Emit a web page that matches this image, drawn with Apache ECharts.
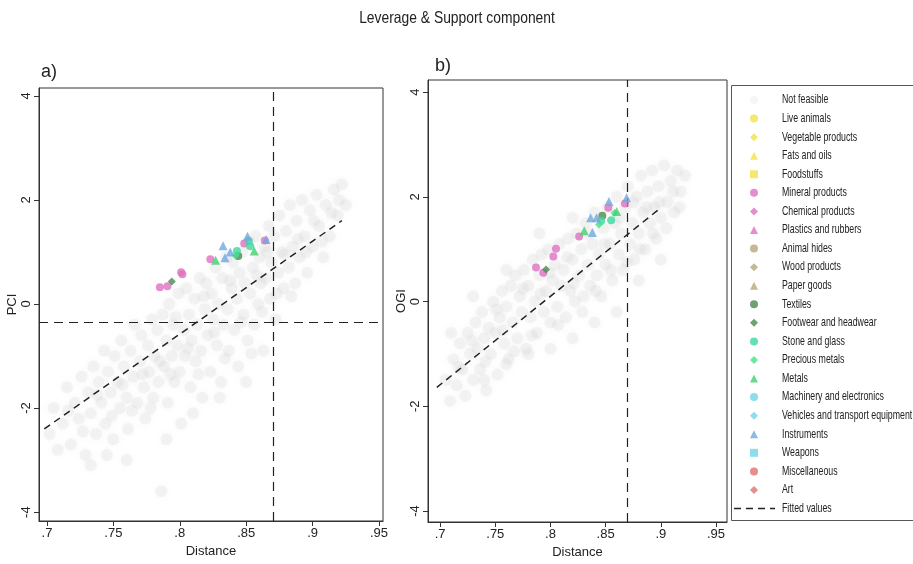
<!DOCTYPE html>
<html><head><meta charset="utf-8">
<script src="https://cdn.jsdelivr.net/npm/echarts@6/dist/echarts.min.js"></script>
<style>html,body{margin:0;padding:0;background:#fff}#c{width:913px;height:564px}</style>
</head><body><div id="c"></div>
<script>
const categories = ["Not feasible","Live animals","Vegetable products","Fats and oils","Foodstuffs","Mineral products","Chemical products","Plastics and rubbers","Animal hides","Wood products","Paper goods","Textiles","Footwear and headwear","Stone and glass","Precious metals","Metals","Machinery and electronics","Vehicles and transport equipment","Instruments","Weapons","Miscellaneous","Art"];
const fittedName = "Fitted values";
const xTicks = [0.7,0.75,0.8,0.85,0.9,0.95];
const yTicks = [-4,-2,0,2,4];
const xTickLabels = [".7",".75",".8",".85",".9",".95"];

// Panel a (PCI)
const notFeasibleA = [[0.712,-2.3],[0.715,-1.6],[0.718,-2.7],[0.721,-1.9],[0.724,-2.2],[0.726,-1.4],[0.729,-2.9],[0.731,-1.7],[0.733,-2.1],[0.735,-1.2],[0.737,-2.5],[0.739,-1.5],[0.741,-1.9],[0.743,-0.9],[0.744,-2.3],[0.746,-1.3],[0.748,-1.7],[0.75,-2.6],[0.751,-1.0],[0.753,-1.5],[0.755,-2.0],[0.756,-0.7],[0.758,-1.2],[0.76,-1.8],[0.761,-2.4],[0.763,-0.9],[0.765,-1.4],[0.766,-0.4],[0.768,-1.9],[0.77,-1.1],[0.771,-0.6],[0.773,-1.6],[0.774,-2.2],[0.776,-0.8],[0.777,-1.3],[0.779,-0.3],[0.78,-1.8],[0.781,-1.0],[0.783,-0.5],[0.784,-1.5],[0.786,-3.6],[0.787,-0.2],[0.788,-1.2],[0.79,-0.7],[0.791,-1.9],[0.792,0.0],[0.794,-1.0],[0.795,-0.4],[0.796,-1.5],[0.798,-0.8],[0.799,0.2],[0.8,-1.3],[0.801,-2.3],[0.803,-0.5],[0.804,-1.0],[0.805,0.3],[0.807,-0.2],[0.808,-1.6],[0.809,-0.7],[0.811,0.1],[0.812,-1.1],[0.813,-0.4],[0.815,0.5],[0.816,-0.9],[0.817,-1.8],[0.819,-0.1],[0.82,0.4],[0.821,-0.6],[0.823,-1.3],[0.824,0.2],[0.825,-0.3],[0.827,0.7],[0.828,-0.8],[0.829,0.0],[0.831,-1.5],[0.832,0.5],[0.833,-0.4],[0.835,0.9],[0.836,-0.1],[0.837,-0.9],[0.839,0.3],[0.84,0.8],[0.841,-0.5],[0.843,0.1],[0.844,-1.2],[0.845,0.6],[0.847,1.0],[0.848,-0.2],[0.849,0.4],[0.851,-0.7],[0.852,1.2],[0.853,0.2],[0.855,0.7],[0.856,-0.4],[0.857,1.3],[0.859,0.0],[0.86,0.9],[0.861,0.4],[0.863,-0.9],[0.864,1.1],[0.865,0.5],[0.867,1.5],[0.868,0.1],[0.869,0.8],[0.871,1.3],[0.872,-0.3],[0.874,0.6],[0.875,1.7],[0.877,1.0],[0.878,0.3],[0.88,1.4],[0.882,0.7],[0.883,1.9],[0.885,1.1],[0.887,0.4],[0.888,1.6],[0.89,0.9],[0.892,2.0],[0.894,1.3],[0.896,0.6],[0.898,1.8],[0.9,1.1],[0.903,2.1],[0.905,1.5],[0.908,0.9],[0.91,1.9],[0.913,1.3],[0.916,2.2],[0.919,1.7],[0.922,2.3],[0.925,1.9],[0.705,-2.0],[0.708,-2.8],[0.702,-2.5],[0.733,-3.1],[0.745,-2.9],[0.76,-3.0],[0.79,-2.6],[0.81,-2.1],[0.83,-1.8],[0.85,-1.5],[0.716,-2.05],[0.727,-2.45],[0.738,-1.75],[0.749,-2.15],[0.757,-1.55],[0.764,-2.05],[0.772,-1.35],[0.778,-2.0],[0.785,-1.1],[0.793,-1.35],[0.797,-0.25],[0.806,-0.85],[0.814,-1.35],[0.818,0.15],[0.826,-0.55],[0.834,-1.05],[0.838,0.45],[0.846,-0.35],[0.854,-0.95],[0.858,0.55],[0.862,-0.15],[0.866,1.0],[0.873,0.2],[0.879,0.95],[0.884,0.15],[0.889,1.25],[0.895,1.0],[0.901,1.6],[0.907,1.2],[0.914,1.75],[0.92,2.0]];
const mineralA = [[0.785,0.32],[0.7907,0.34],[0.801,0.61],[0.802,0.57],[0.823,0.86],[0.8485,1.16],[0.864,1.22]];
const footwearA = [[0.794,0.43]];
const metalsA = [[0.827,0.84],[0.856,1.02]];
const instrumentsA = [[0.8326,1.12],[0.834,0.89],[0.838,1.0],[0.851,1.30],[0.865,1.24]];
const stoneA = [[0.843,1.02],[0.852,1.21],[0.853,1.11]];
const textilesA = [[0.844,0.92]];
const preciousA = [[0.842,0.93]];
const fitA = [[0.698,-2.40],[0.922,1.60]];
const distanceCutA = 0.872;
const pciCutA = -0.35;

// Panel b (OGI)
const notFeasibleB = [[0.705,-1.5],[0.709,-1.9],[0.712,-1.1],[0.715,-1.6],[0.718,-0.8],[0.72,-1.3],[0.723,-1.8],[0.725,-0.6],[0.727,-1.0],[0.73,-1.5],[0.732,-0.4],[0.734,-0.9],[0.736,-1.3],[0.738,-0.2],[0.74,-0.7],[0.742,-1.7],[0.744,-0.5],[0.746,-1.0],[0.748,0.0],[0.75,-0.6],[0.752,-1.4],[0.754,-0.3],[0.756,0.2],[0.758,-0.8],[0.76,-0.1],[0.762,-1.1],[0.764,0.3],[0.766,-0.4],[0.768,0.5],[0.77,-0.7],[0.772,0.1],[0.774,-0.2],[0.776,0.6],[0.778,-0.9],[0.78,0.3],[0.782,-0.3],[0.784,0.8],[0.786,0.0],[0.788,-0.6],[0.79,0.5],[0.792,0.9],[0.794,-0.2],[0.796,0.2],[0.798,1.0],[0.8,-0.4],[0.802,0.4],[0.804,0.7],[0.806,-0.1],[0.808,1.1],[0.81,0.3],[0.812,0.6],[0.814,-0.3],[0.816,1.2],[0.818,0.2],[0.82,0.8],[0.822,0.0],[0.824,1.3],[0.826,0.5],[0.828,1.0],[0.83,0.1],[0.832,1.5],[0.834,0.7],[0.836,0.3],[0.838,1.1],[0.84,1.7],[0.842,0.5],[0.844,0.9],[0.846,0.1],[0.848,1.4],[0.85,0.7],[0.852,1.8],[0.854,1.1],[0.856,0.4],[0.858,1.5],[0.86,2.0],[0.862,0.9],[0.864,1.3],[0.866,0.6],[0.868,1.8],[0.87,2.2],[0.872,1.1],[0.874,1.5],[0.876,0.8],[0.878,2.0],[0.88,1.3],[0.882,2.4],[0.884,1.7],[0.886,1.0],[0.888,2.1],[0.89,1.5],[0.892,2.5],[0.894,1.8],[0.896,1.2],[0.898,2.2],[0.9,1.6],[0.903,2.6],[0.906,1.9],[0.909,2.3],[0.912,1.7],[0.915,2.5],[0.918,2.1],[0.922,2.4],[0.74,-1.5],[0.76,-1.2],[0.78,-1.0],[0.8,-0.9],[0.82,-0.7],[0.84,-0.4],[0.86,-0.2],[0.88,0.4],[0.9,0.8],[0.71,-0.6],[0.73,0.1],[0.76,0.6],[0.79,1.3],[0.82,1.6],[0.717,-1.25],[0.729,-0.75],[0.741,-1.15],[0.751,-0.15],[0.757,-0.55],[0.767,-0.95],[0.775,0.25],[0.783,-0.65],[0.791,0.15],[0.799,0.55],[0.807,-0.45],[0.815,0.85],[0.821,0.35],[0.829,-0.2],[0.835,1.3],[0.841,0.2],[0.849,1.1],[0.855,0.6],[0.863,1.6],[0.869,0.75],[0.875,1.9],[0.881,1.0],[0.887,1.8],[0.893,1.3],[0.899,1.9],[0.905,1.4],[0.911,2.1],[0.917,1.8]];
const mineralB = [[0.7869,0.65],[0.7935,0.55],[0.8026,0.86],[0.805,1.01],[0.826,1.24],[0.8524,1.79],[0.8675,1.87]];
const footwearB = [[0.796,0.61]];
const metalsB = [[0.8306,1.35],[0.86,1.72]];
const instrumentsB = [[0.838,1.32],[0.8364,1.60],[0.8418,1.60],[0.853,1.91],[0.869,1.98]];
const preciousB = [[0.844,1.47],[0.858,1.69]];
const textilesB = [[0.847,1.64]];
const stoneB = [[0.846,1.54],[0.855,1.55]];
const fitB = [[0.697,-1.64],[0.90,1.79]];
const distanceCutB = 0.872;

// styles (not data)
const styleMap = {
 "Not feasible":["circle","#d0d0d0"],
 "Live animals":["circle","#f0e448"],
 "Vegetable products":["diamond","#f0e448"],
 "Fats and oils":["triangle","#f0e448"],
 "Foodstuffs":["rect","#f0e448"],
 "Mineral products":["circle","#e070c0"],
 "Chemical products":["diamond","#e070c0"],
 "Plastics and rubbers":["triangle","#e070c0"],
 "Animal hides":["circle","#b8a57a"],
 "Wood products":["diamond","#b8a57a"],
 "Paper goods":["triangle","#b8a57a"],
 "Textiles":["circle","#4a8a50"],
 "Footwear and headwear":["diamond","#4a8a50"],
 "Stone and glass":["circle","#40d8a0"],
 "Precious metals":["diamond","#48e088"],
 "Metals":["triangle","#44d070"],
 "Machinery and electronics":["circle","#70d4e8"],
 "Vehicles and transport equipment":["diamond","#70d4e8"],
 "Instruments":["triangle","#6fa8de"],
 "Weapons":["rect","#70d4e8"],
 "Miscellaneous":["circle","#e07070"],
 "Art":["diamond","#e07070"]
};
const panelA = {"Not feasible":notFeasibleA,"Mineral products":mineralA,"Footwear and headwear":footwearA,"Metals":metalsA,"Instruments":instrumentsA,"Stone and glass":stoneA,"Textiles":textilesA,"Precious metals":preciousA};
const panelB = {"Not feasible":notFeasibleB,"Mineral products":mineralB,"Footwear and headwear":footwearB,"Metals":metalsB,"Instruments":instrumentsB,"Stone and glass":stoneB,"Textiles":textilesB,"Precious metals":preciousB};

const FONT = '"Liberation Sans Narrow","Liberation Sans",Arial,sans-serif';
const chart = echarts.init(document.getElementById('c'), null, {renderer:'canvas'});

function xAxisDef(idx, min, max){
  return {gridIndex:idx, type:'value', min:min, max:max, name:'Distance', nameLocation:'middle', nameGap:24,
    nameTextStyle:{fontFamily:FONT,fontSize:13,color:'#222'},
    axisLine:{show:true,onZero:false,lineStyle:{color:'#333',width:1}},
    axisTick:{show:true,inside:false,length:5,customValues:xTicks,lineStyle:{color:'#333'}},
    axisLabel:{customValues:xTicks,fontFamily:FONT,fontSize:13,color:'#222',margin:6,
      formatter:v=>{const i=xTicks.findIndex(t=>Math.abs(t-v)<1e-9);return i>=0?xTickLabels[i]:'';}},
    splitLine:{show:false}};
}
function yAxisDef(idx, min, max, name){
  return {gridIndex:idx, type:'value', min:min, max:max, name:name, nameLocation:'middle', nameGap:19, nameRotate:90,
    nameTextStyle:{fontFamily:FONT,fontSize:13,color:'#222'},
    axisLine:{show:true,onZero:false,lineStyle:{color:'#333',width:1}},
    axisTick:{show:true,inside:false,length:5,customValues:yTicks,lineStyle:{color:'#333'}},
    axisLabel:{customValues:yTicks,rotate:90,fontFamily:FONT,fontSize:13,color:'#222',margin:6},
    splitLine:{show:false}};
}

const series = [];
function addPanel(idx, pts, fit, vcut, hcut){
  categories.forEach(name=>{
    const st = styleMap[name];
    const nf = name==="Not feasible";
    series.push({type:'scatter', name:name, xAxisIndex:idx, yAxisIndex:idx,
      data: pts[name] || [], symbol: st[0], symbolSize: nf?12:(st[0]==='triangle'?9:8),
      itemStyle: nf ? {color:st[1], opacity:0.2, shadowBlur:6, shadowColor:'rgba(200,200,200,0.6)'} : {color:st[1], opacity:0.8},
      z: nf?1:5, silent:true});
  });
  series.push({type:'line', name:fittedName, xAxisIndex:idx, yAxisIndex:idx, data:fit, symbol:'none',
    lineStyle:{color:'#222',width:1.5,type:[7,5]}, itemStyle:{color:'#222'}, z:4, silent:true,
    markLine:{silent:true, symbol:['none','none'], label:{show:false},
      lineStyle:{color:'#222',width:1.2,type:[9,6]},
      data: [{xAxis:vcut}].concat(hcut!==null?[{yAxis:hcut}]:[])}});
}
addPanel(0, panelA, fitA, distanceCutA, pciCutA);
addPanel(1, panelB, fitB, distanceCutB, null);

// legend geometry
const LEG_TOP = 100, LEG_STEP = 18.57, LEG_TEXT_X = 782;
const graphics = [
  {type:'text', x:457, y:18, scaleX:0.84, style:{text:'Leverage & Support component', font:'16.5px "Liberation Sans", Arial, sans-serif', fill:'#222', textAlign:'center', textVerticalAlign:'middle'}},
  {type:'rect', shape:{x:731.5, y:85.5, width:190, height:435}, style:{fill:'none', stroke:'#555', lineWidth:1}, z:0},
  {type:'line', shape:{x1:734, y1:LEG_TOP+22*LEG_STEP, x2:775, y2:LEG_TOP+22*LEG_STEP}, style:{stroke:'#222', lineWidth:1.5, lineDash:[7,5]}},
];
categories.concat([fittedName]).forEach((name,i)=>{
  graphics.push({type:'text', x:LEG_TEXT_X, y:LEG_TOP+i*LEG_STEP, scaleX:0.72,
    style:{text:name, font:'12.2px "Liberation Sans", Arial, sans-serif', fill:'#222', textVerticalAlign:'middle'}});
});

chart.setOption({
  animation:false,
  backgroundColor:'#fff',
  textStyle:{fontFamily:FONT},
  title:[
    {text:'a)', left:36, top:58, textStyle:{fontFamily:FONT,fontSize:18,fontWeight:'normal',color:'#222'}},
    {text:'b)', left:430, top:52, textStyle:{fontFamily:FONT,fontSize:18,fontWeight:'normal',color:'#222'}}
  ],
  grid:[
    {left:39, top:88, width:344, height:433, show:true, borderColor:'#333', borderWidth:1, containLabel:false},
    {left:428, top:80, width:299, height:448, show:true, borderColor:'#333', borderWidth:1, containLabel:false}
  ],
  xAxis:[xAxisDef(0,0.694,0.953), xAxisDef(1,0.689,0.96)],
  yAxis:[yAxisDef(0,-4.17,4.15,'PCI'), yAxisDef(1,-4.21,4.23,'OGI')],
  legend:{orient:'vertical', left:750, top:LEG_TOP-4, data:categories,
    itemWidth:8, itemHeight:8, itemGap:LEG_STEP-8, padding:0,
    formatter:()=>'', textStyle:{fontSize:8,lineHeight:8,padding:0},
    selectedMode:false},
  graphic:graphics,
  series:series
});
</script></body></html>
